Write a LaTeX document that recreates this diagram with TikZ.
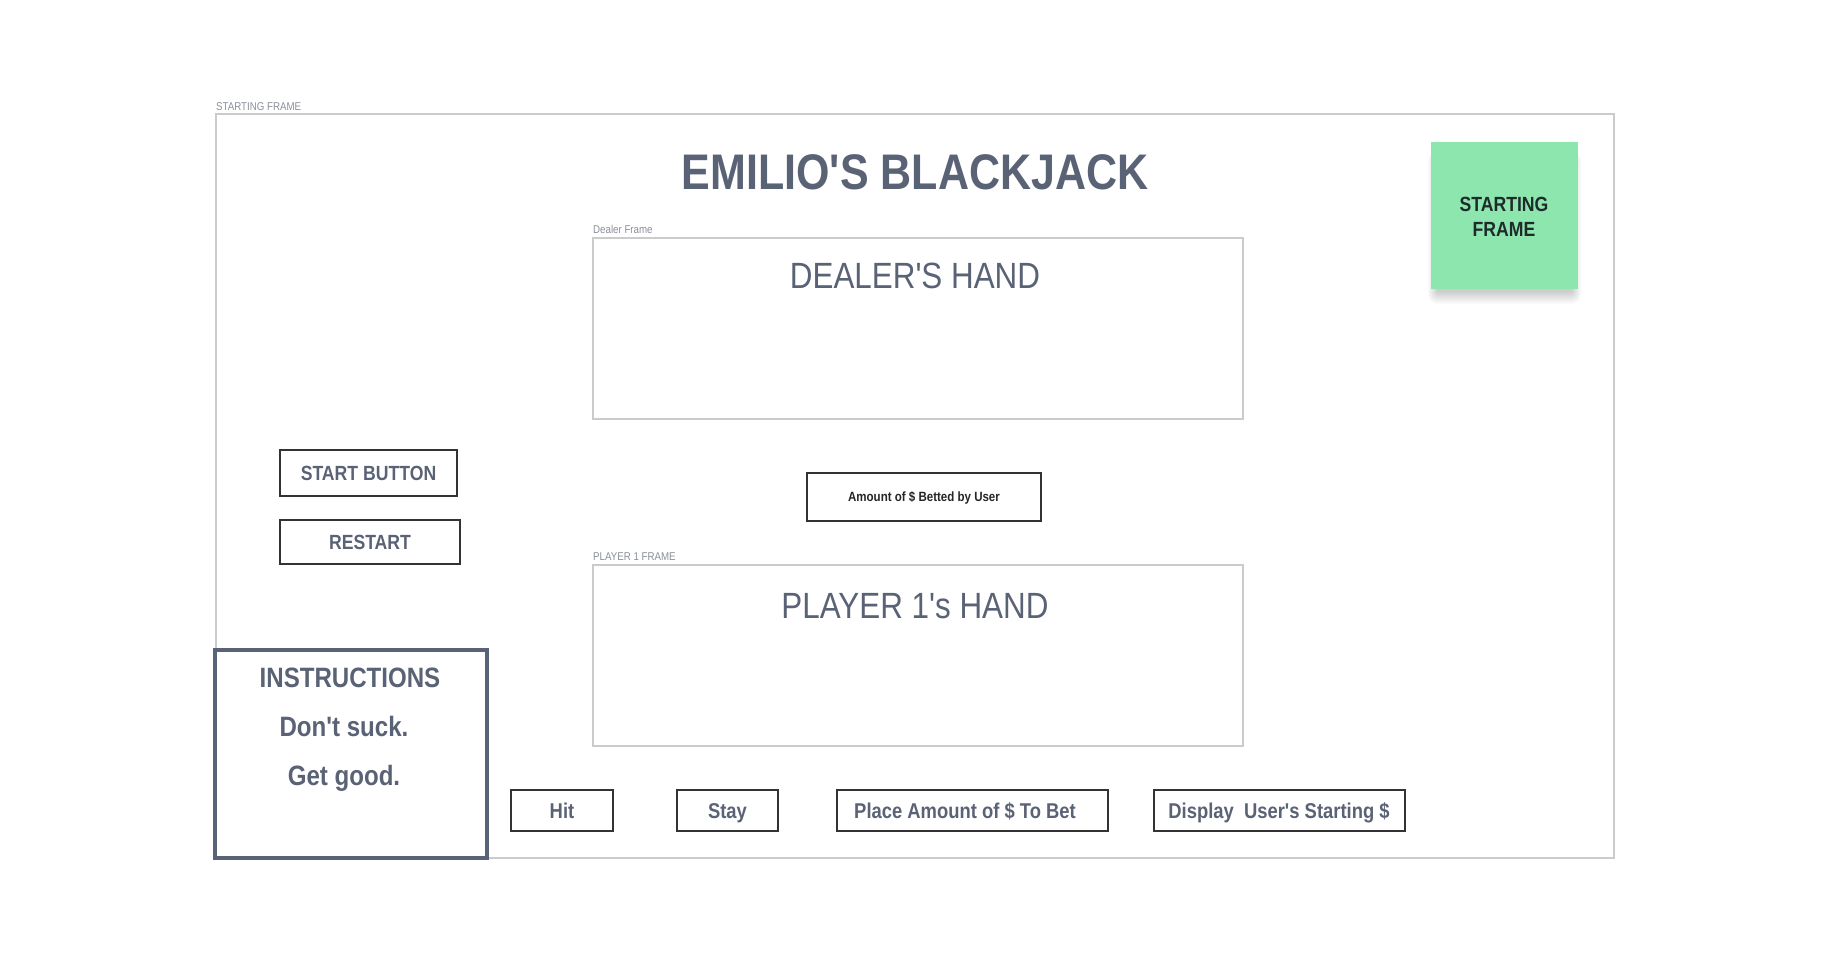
\documentclass[tikz,border=0pt]{standalone}
\usepackage{fontspec}
\setmainfont{Liberation Sans}[FakeStretch=0.86, Ligatures=TeXOff]
\definecolor{slate}{HTML}{5A6275}
\definecolor{framegray}{HTML}{CBCBCB}
\definecolor{labelgray}{HTML}{8A8F99}
\definecolor{btnline}{HTML}{333333}
\definecolor{sticky}{HTML}{8DE6AE}
\definecolor{stickytext}{HTML}{1E2B2B}
\newcommand{\px}[1]{\fontsize{#1}{#1}\selectfont}
\tikzset{
  box/.style={anchor=north west, inner sep=0pt, outer sep=0pt},
  panel/.style={box, draw=framegray, line width=1.4pt, fill=white},
  btn/.style={box, draw=btnline, line width=1.8pt},
  captext/.style={inner sep=0pt, anchor=base},
  smalllabel/.style={inner sep=0pt, anchor=base west, text=labelgray, font=\px{11.3}},
  btntext/.style={captext, text=slate, font=\px{21.4}\bfseries},
}
\begin{document}
\begin{tikzpicture}[x=1pt, y=-1pt]
\useasboundingbox[fill=white] (0,0) rectangle (1830,972);

% outer frame and its caption
\node[smalllabel] (framelabel) at (216,110) {STARTING FRAME};
\node[panel, minimum width=1398pt, minimum height=744pt] (frame) at (216,114) {};

% title
\node[captext, text=slate, font=\px{50}\bfseries] (title) at (915,189) {EMILIO'S BLACKJACK};

% soft shadow under the sticky note
\foreach \r in {1,...,10}
  \fill[black, opacity=0.02, rounded corners=\r pt]
    (1438-\r,152) rectangle (1571+\r,291+1.3*\r);
% sticky note
\node[box, fill=sticky, minimum width=147pt, minimum height=147pt] (note) at (1431,142) {};
\node[captext, text=stickytext, font=\px{20.5}\bfseries] (noteA) at (1504,211.3) {STARTING};
\node[captext, text=stickytext, font=\px{20.5}\bfseries] (noteB) at (1504,236.3) {FRAME};

% dealer frame
\node[smalllabel] (dealerlabel) at (593,233.5) {Dealer Frame};
\node[panel, minimum width=650pt, minimum height=181pt] (dealer) at (593,238) {};
\node[captext, text=slate, font=\px{36.5}] (dealerhand) at (915,288) {DEALER'S HAND};

% player frame
\node[smalllabel] (playerlabel) at (593,560) {PLAYER 1 FRAME};
\node[panel, minimum width=650pt, minimum height=181pt] (player) at (593,565) {};
\node[captext, text=slate, font=\px{36.5}] (playerhand) at (915,618) {PLAYER 1's HAND};

% left buttons
\node[btn, minimum width=177pt, minimum height=46pt] (start) at (280,450) {};
\node[btntext, font=\px{20.5}\bfseries] (startt) at (368.5,480.5) {START BUTTON};
\node[btn, minimum width=180pt, minimum height=44pt] (restart) at (280,520) {};
\node[btntext, font=\px{20.5}\bfseries] (restartt) at (370,549.5) {RESTART};

% bet amount display
\node[btn, minimum width=234pt, minimum height=48pt] (amount) at (807,473) {};
\node[captext, text=black!85, font=\px{13.4}\bfseries] (amountt) at (924,501.8) {Amount of \$ Betted by User};

% instructions panel
\node[box, draw=slate, line width=3.2pt, fill=white, minimum width=272pt, minimum height=208pt] (instr) at (215,650) {};
\node[captext, text=slate, font=\px{28}\bfseries] (instrt) at (350,687) {INSTRUCTIONS};
\node[captext, text=slate, font=\px{28}\bfseries] (instrA) at (344,736) {Don't suck.};
\node[captext, text=slate, font=\px{28}\bfseries] (instrB) at (344,785) {Get good.};

% bottom buttons
\node[btn, minimum width=102pt, minimum height=41pt] (hit) at (511,790) {};
\node[btntext] (hitt) at (562,818.5) {Hit};
\node[btn, minimum width=101pt, minimum height=41pt] (stay) at (677,790) {};
\node[btntext] (stayt) at (727.5,818.5) {Stay};
\node[btn, minimum width=271pt, minimum height=41pt] (place) at (837,790) {};
\node[btntext] (placet) at (965,818.5) {Place Amount of \$ To Bet};
\node[btn, minimum width=251pt, minimum height=41pt] (display) at (1154,790) {};
\node[btntext] (displayt) at (1279,818.5) {Display\ \ User's Starting \$};
\end{tikzpicture}
\end{document}
